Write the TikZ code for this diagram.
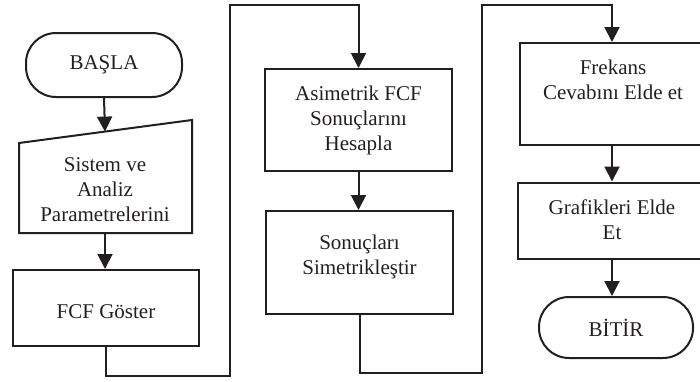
\documentclass[tikz,border=0pt]{standalone}
\usepackage{fontspec}
\setmainfont{Liberation Serif}
\usetikzlibrary{arrows.meta}
\definecolor{ink}{HTML}{231F20}
\tikzset{
  every node/.style={font=\fontsize{10.5}{12.5}\selectfont, text=ink},
  box/.style={draw=ink, line width=1pt, rectangle, inner sep=0pt},
  term/.style={draw=ink, line width=1pt, rectangle, rounded corners=15pt, inner sep=0pt},
  txt/.style={align=center, inner sep=0pt},
  conn/.style={draw=ink, line width=1pt},
  arr/.style={conn, -{Triangle[length=7.5pt,width=7.5pt]}}
}
\begin{document}
\begin{tikzpicture}[x=0.5pt,y=-0.5pt]
\useasboundingbox (0,0) rectangle (700,381);
\clip (0,0) rectangle (700,381);
% column 1
\node[term, minimum width=78pt, minimum height=32pt] (start) at (104,65) {BAŞLA};
\draw[conn] (19,143) -- (192,120) -- (192,233) -- (19,233) -- cycle;
\coordinate (in1) at (105,131.6);
\coordinate (out1) at (105,233);
\node[txt] (sistxt) at (105,190) {Sistem ve\\Analiz\\Parametrelerini};
\node[box, minimum width=93pt, minimum height=38pt] (fcf) at (106,308) {};
\node[txt] (fcftxt) at (106,312) {FCF Göster};
% column 2
\node[box, minimum width=93.5pt, minimum height=51pt] (asim) at (358.5,120) {};
\node[txt] (asimtxt) at (358.5,120) {Asimetrik FCF\\Sonuçlarını\\Hesapla};
\node[box, minimum width=93.5pt, minimum height=51.5pt] (sonuc) at (359.5,262.5) {};
\node[txt] (sonuctxt) at (359.5,257) {Sonuçları\\Simetrikleştir};
% column 3
\node[box, minimum width=92pt, minimum height=51pt] (frek) at (612,94) {};
\node[txt] (frektxt) at (613,80) {Frekans\\Cevabını Elde et};
\node[box, minimum width=94pt, minimum height=38pt] (graf) at (612,220.5) {};
\node[txt] (graftxt) at (612,220) {Grafikleri Elde\\Et};
\node[term, minimum width=77pt, minimum height=30.5pt] (bitir) at (616,327.5) {BİTİR};
% connector corners
\coordinate (c1) at (230,376);
\coordinate (c2) at (230,5);
\coordinate (c3) at (482,373);
\coordinate (c4) at (482,5);
% connectors
\draw[arr] (start.south) -- (in1);
\draw[arr] (out1) -- (out1 |- fcf.north);
\draw[arr] (fcf.south) |- (c1) -- (c2) -| (asim.north);
\draw[arr] (asim.south) -- (asim.south |- sonuc.north);
\draw[arr] (sonuc.south) |- (c3) -- (c4) -| (frek.north);
\draw[arr] (frek.south) -- (graf.north);
\draw[arr] (graf.south) -- (graf.south |- bitir.north);
\end{tikzpicture}
\end{document}
